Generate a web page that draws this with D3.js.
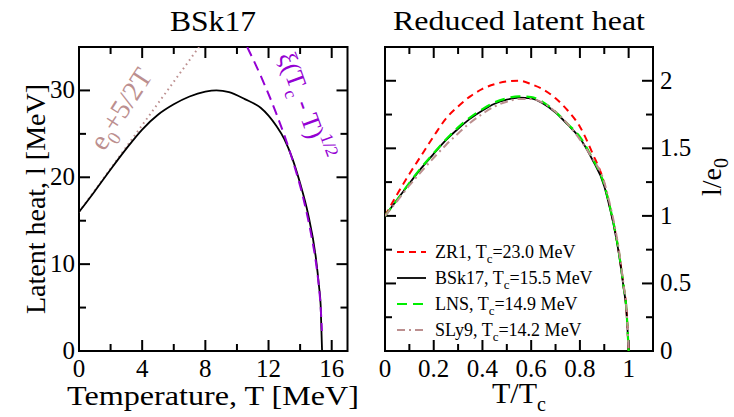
<!DOCTYPE html>
<html>
<head>
<meta charset="utf-8">
<script src="https://cdn.jsdelivr.net/npm/d3@7"></script>
<style>
  html,body{margin:0;padding:0;background:#fff;}
  svg{display:block;}
  text{font-family:"Liberation Serif","Times New Roman",serif;fill:#000;}
</style>
</head>
<body>
<svg id="chart" width="734" height="417"></svg>
<script>
// ---------- Left panel data (BSk17) ----------
const tempT      = [0, 1, 2, 3, 4, 5, 6, 7, 8, 8.7, 9.5, 10.5, 11.5, 12, 12.5, 13, 13.5, 14, 14.5, 15, 15.2, 15.3, 15.39];
const bsk17Heat  = [16, 18.4, 20.9, 23.3, 25.5, 27.2, 28.4, 29.3, 29.85, 30, 29.8, 29.0, 28.0, 27.1, 25.9, 24.4, 22.2, 19.3, 15.8, 10.7, 7.4, 5.3, 0];
const linT       = [0, 7.6];
const linHeat    = [16, 35];
const xiT        = [10.65, 11.5, 12.5, 13.5, 14.2, 14.7, 15.0, 15.2, 15.3, 15.38];
const xiHeat     = [35, 31.7, 27.3, 22.1, 17.6, 13.4, 10.2, 7.2, 5.1, 2.3];
const leftXTicks = [0, 4, 8, 12, 16];
const leftYTicks = [0, 10, 20, 30];

// ---------- Right panel data (reduced) ----------
const redT   = [0, .05, .1, .15, .2, .25, .3, .35, .4, .45, .5, .55, .6, .65, .7, .75, .8, .85, .9, .92, .94, .96, .98, .99, 1];
const zr1    = [1, 1.16, 1.31, 1.45, 1.59, 1.72, 1.81, 1.885, 1.94, 1.975, 1.995, 2.0, 1.975, 1.935, 1.87, 1.78, 1.66, 1.47, 1.24, 1.09, 0.93, 0.73, 0.47, 0.33, 0];
const bsk17R = [1, 1.12, 1.24, 1.355, 1.46, 1.56, 1.645, 1.72, 1.78, 1.83, 1.86, 1.875, 1.87, 1.83, 1.765, 1.675, 1.575, 1.42, 1.22, 1.08, 0.92, 0.72, 0.46, 0.32, 0];
const lns    = [1, 1.12, 1.245, 1.36, 1.465, 1.565, 1.655, 1.73, 1.79, 1.84, 1.87, 1.885, 1.88, 1.84, 1.77, 1.68, 1.585, 1.43, 1.23, 1.09, 0.93, 0.73, 0.47, 0.33, 0];
const sly9   = [1, 1.11, 1.225, 1.33, 1.43, 1.525, 1.61, 1.69, 1.755, 1.81, 1.845, 1.865, 1.865, 1.835, 1.77, 1.68, 1.565, 1.43, 1.25, 1.11, 0.95, 0.75, 0.48, 0.34, 0];
const rightXTicks = [0, 0.2, 0.4, 0.6, 0.8, 1];
const rightYTicks = [0, 0.5, 1, 1.5, 2];
const seriesNames = ["ZR1", "BSk17", "LNS", "SLy9"];
const seriesTc    = ["23.0", "15.5", "14.9", "14.2"];

const svg = d3.select("#chart");

// scales
const xL = d3.scaleLinear().domain([0, 17]).range([79, 347.5]);
const yL = d3.scaleLinear().domain([0, 35]).range([351, 47]);
const xR = d3.scaleLinear().domain([0, 1.1]).range([385, 653]);
const yR = d3.scaleLinear().domain([0, 2.25]).range([351, 47]);

const defs = svg.append("defs");
defs.append("clipPath").attr("id","clipL").append("rect")
  .attr("x", xL(0)).attr("y", yL(35)).attr("width", xL(17)-xL(0)).attr("height", yL(0)-yL(35));
defs.append("clipPath").attr("id","clipR").append("rect")
  .attr("x", xR(0)).attr("y", yR(2.25)).attr("width", xR(1.1)-xR(0)).attr("height", yR(0)-yR(2.25));

function frame(x, y, majX, minX, majY, minY) {
  const g = svg.append("g");
  const x0 = x.range()[0], x1 = x.range()[1], y0 = y.range()[0], y1 = y.range()[1];
  const MJ = 11, MN = 7;
  majX.forEach(v => {
    g.append("line").attr("x1", x(v)).attr("x2", x(v)).attr("y1", y0).attr("y2", y0 - MJ);
    g.append("line").attr("x1", x(v)).attr("x2", x(v)).attr("y1", y1).attr("y2", y1 + MJ);
  });
  minX.forEach(v => {
    g.append("line").attr("x1", x(v)).attr("x2", x(v)).attr("y1", y0).attr("y2", y0 - MN);
    g.append("line").attr("x1", x(v)).attr("x2", x(v)).attr("y1", y1).attr("y2", y1 + MN);
  });
  majY.forEach(v => {
    g.append("line").attr("x1", x0).attr("x2", x0 + MJ).attr("y1", y(v)).attr("y2", y(v));
    g.append("line").attr("x1", x1).attr("x2", x1 - MJ).attr("y1", y(v)).attr("y2", y(v));
  });
  minY.forEach(v => {
    g.append("line").attr("x1", x0).attr("x2", x0 + MN).attr("y1", y(v)).attr("y2", y(v));
    g.append("line").attr("x1", x1).attr("x2", x1 - MN).attr("y1", y(v)).attr("y2", y(v));
  });
  g.selectAll("line").attr("stroke", "#000").attr("stroke-width", 2);
  g.append("rect").attr("x", x0).attr("y", y1).attr("width", x1 - x0).attr("height", y0 - y1)
    .attr("fill", "none").attr("stroke", "#000").attr("stroke-width", 2);
  return g;
}

// Left frame
const gL = frame(xL, yL, leftXTicks, [2, 6, 10, 14], leftYTicks, [5, 15, 25]);
gL.selectAll(".xt").data(leftXTicks).enter().append("text")
  .attr("x", d => xL(d)).attr("y", 377).attr("text-anchor", "middle")
  .attr("font-size", 25).text(d => d);
gL.selectAll(".yt").data(leftYTicks).enter().append("text")
  .attr("x", 75).attr("y", d => yL(d) + 8).attr("text-anchor", "end")
  .attr("font-size", 25).text(d => d);

// Right frame
const gR = frame(xR, yR, rightXTicks, [0.1, 0.3, 0.5, 0.7, 0.9], rightYTicks, [0.25, 0.75, 1.25, 1.75]);
gR.selectAll(".xt").data(rightXTicks).enter().append("text")
  .attr("x", d => xR(d)).attr("y", 377).attr("text-anchor", "middle")
  .attr("font-size", 25).text(d => d);
gR.selectAll(".yt").data(rightYTicks).enter().append("text")
  .attr("x", 660).attr("y", d => yR(d) + 8).attr("text-anchor", "start")
  .attr("font-size", 25).text(d => d);

// Titles
svg.append("text").attr("x", 213).attr("y", 31).attr("text-anchor", "middle")
  .attr("font-size", 30).attr("textLength", 86).attr("lengthAdjust", "spacingAndGlyphs").text("BSk17");
svg.append("text").attr("x", 519).attr("y", 30).attr("text-anchor", "middle")
  .attr("font-size", 28).attr("textLength", 252).attr("lengthAdjust", "spacingAndGlyphs")
  .text("Reduced latent heat");

// Axis labels
svg.append("text").attr("x", 213).attr("y", 405).attr("text-anchor", "middle")
  .attr("font-size", 28).attr("textLength", 292).attr("lengthAdjust", "spacingAndGlyphs")
  .text("Temperature, T [MeV]");
svg.append("text").attr("transform", "translate(45,199) rotate(-90)").attr("text-anchor", "middle")
  .attr("font-size", 28).text("Latent heat, l [MeV]");

const xr = svg.append("text").attr("x", 519).attr("y", 403).attr("text-anchor", "middle").attr("font-size", 30);
xr.append("tspan").text("T/T");
xr.append("tspan").attr("font-size", 20).attr("dy", 8).text("c");

const yr = svg.append("text").attr("transform", "translate(721,177) rotate(-90)").attr("text-anchor", "middle").attr("font-size", 28);
yr.append("tspan").text("l/e");
yr.append("tspan").attr("font-size", 20).attr("dy", 7).text("0");

// ---------- Left panel curves ----------
const lineL = d3.line().x(d => xL(d[0])).y(d => yL(d[1])).curve(d3.curveMonotoneX);
const cL = svg.append("g").attr("clip-path", "url(#clipL)");
cL.append("path").datum(d3.zip(linT, linHeat)).attr("d", lineL)
  .attr("fill", "none").attr("stroke", "#bc8f8f").attr("stroke-width", 2).attr("stroke-dasharray", "1.6,3.6");
cL.append("path").datum(d3.zip(tempT, bsk17Heat)).attr("d", lineL)
  .attr("fill", "none").attr("stroke", "#000").attr("stroke-width", 1.8);
cL.append("path").datum(d3.zip(xiT, xiHeat)).attr("d", lineL)
  .attr("fill", "none").attr("stroke", "#9400d3").attr("stroke-width", 2).attr("stroke-dasharray", "10,6");

// annotations
const a1 = svg.append("text").attr("transform", "translate(104,152) rotate(-57)")
  .attr("font-size", 28).style("fill", "#bc8f8f");
a1.append("tspan").text("e");
a1.append("tspan").attr("font-size", 19).attr("dy", 7).text("0");
a1.append("tspan").attr("dy", -7).text("+5/2T");

const a2 = svg.append("text").attr("transform", "translate(278,56) rotate(70)")
  .attr("font-size", 26).style("fill", "#9400d3");
a2.append("tspan").text("ξ(T");
a2.append("tspan").attr("font-size", 18).attr("dy", 7).text("c");
a2.append("tspan").attr("dy", -7).text(" - T)");
a2.append("tspan").attr("font-size", 18).attr("dy", -12).text("1/2");

// ---------- Right panel curves ----------
const lineR = d3.line().x(d => xR(d[0])).y(d => yR(d[1])).curve(d3.curveMonotoneX);
const cR = svg.append("g").attr("clip-path", "url(#clipR)");
const styles = [
  {color: "#ff0000", width: 2, dash: "7,5"},
  {color: "#000000", width: 1.8, dash: null},
  {color: "#00ee00", width: 2.2, dash: "10,6"},
  {color: "#bc8f8f", width: 2, dash: "8,4,2,4"}
];
const seriesVals = [zr1, bsk17R, lns, sly9];
seriesVals.forEach((vals, i) => {
  const p = cR.append("path").datum(d3.zip(redT, vals)).attr("d", lineR)
    .attr("fill", "none").attr("stroke", styles[i].color).attr("stroke-width", styles[i].width);
  if (styles[i].dash) p.attr("stroke-dasharray", styles[i].dash);
});

// Legend
const legY = [252, 278, 304, 330];
seriesNames.forEach((name, i) => {
  const l = svg.append("line").attr("x1", 397).attr("x2", 426).attr("y1", legY[i]).attr("y2", legY[i])
    .attr("stroke", styles[i].color).attr("stroke-width", styles[i].width);
  if (styles[i].dash) l.attr("stroke-dasharray", styles[i].dash);
  const t = svg.append("text").attr("x", 435).attr("y", legY[i] + 6).attr("font-size", 18);
  t.append("tspan").text(name + ", T");
  t.append("tspan").attr("font-size", 13).attr("dy", 5).text("c");
  t.append("tspan").attr("dy", -5).text("=" + seriesTc[i] + " MeV");
});
</script>
</body>
</html>
